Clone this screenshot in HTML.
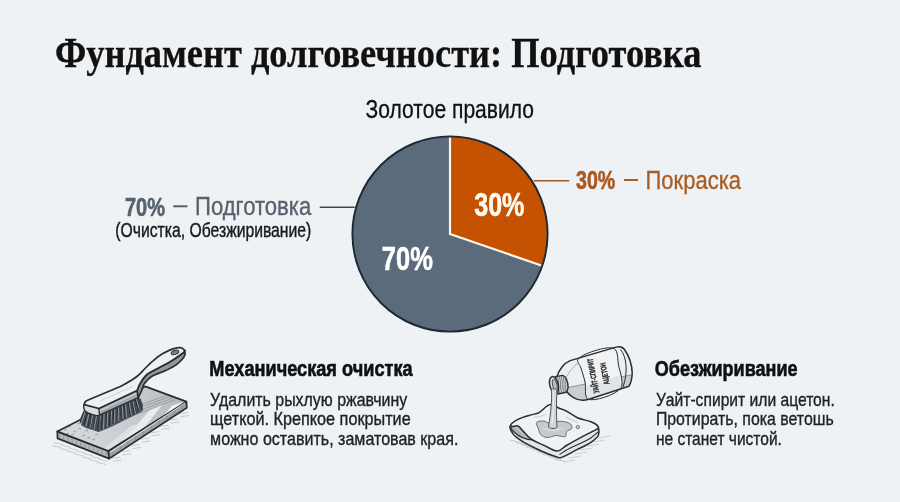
<!DOCTYPE html>
<html><head><meta charset="utf-8">
<style>
html,body{margin:0;padding:0;background:#eff2f5;}
body{width:900px;height:502px;overflow:hidden;}
svg{display:block;will-change:transform;}
.s{font-family:"Liberation Sans",sans-serif;}
.f{font-family:"Liberation Serif",serif;}
</style></head>
<body>
<svg width="900" height="502" viewBox="0 0 900 502">
<rect width="900" height="502" fill="#eff2f5"/>

<!-- Title -->
<text class="f" x="55" y="0" transform="translate(0,66.6) scale(1,1.08)" font-size="39" font-weight="bold" fill="#111" stroke="#111" stroke-width="0.3" textLength="646.5" lengthAdjust="spacingAndGlyphs">Фундамент долговечности: Подготовка</text>

<!-- Subtitle -->
<text class="s" x="365.6" y="118" font-size="25.5" fill="#111" stroke="#111" stroke-width="0.3" textLength="168.4" lengthAdjust="spacingAndGlyphs">Золотое правило</text>

<!-- Pie -->
<g id="pie">
  <circle cx="450" cy="234" r="97.6" fill="#5b6b7c"/>
  <path d="M450,234 L450,136.4 A97.6,97.6 0 0,1 542.28,265.78 Z" fill="#c55200"/>
  <path d="M450,137.4 L450,234 L541.34,265.45" fill="none" stroke="#fff6ea" stroke-width="2.2"/>
  <circle cx="450" cy="234" r="97.6" fill="none" stroke="#1c2834" stroke-width="1.9"/>
</g>
<text class="s" x="474.2" y="215.7" font-size="33.5" font-weight="bold" fill="#fffaf0" stroke="#fffaf0" stroke-width="0.6" textLength="50.2" lengthAdjust="spacingAndGlyphs">30%</text>
<text class="s" x="381.8" y="269.7" font-size="33.5" font-weight="bold" fill="#ffffff" stroke="#ffffff" stroke-width="0.6" textLength="51" lengthAdjust="spacingAndGlyphs">70%</text>

<!-- left label -->
<text class="s" x="125" y="215.5" font-size="26" font-weight="bold" fill="#57626d" stroke="#57626d" stroke-width="0.6" textLength="40" lengthAdjust="spacingAndGlyphs">70%</text>
<rect x="173.2" y="205.3" width="14.3" height="2" fill="#57626d"/>
<text class="s" x="195" y="215.3" font-size="26" fill="#57626d" stroke="#57626d" stroke-width="0.35" textLength="116.3" lengthAdjust="spacingAndGlyphs">Подготовка</text>
<text class="s" x="115.3" y="236.8" font-size="19.3" fill="#1a1a1a" stroke="#1a1a1a" stroke-width="0.4" textLength="196" lengthAdjust="spacingAndGlyphs">(Очистка, Обезжиривание)</text>
<rect x="319.7" y="206.5" width="35" height="1.5" fill="#3a4652"/>

<!-- right label -->
<rect x="534" y="180" width="35.3" height="1.5" fill="#9a5a2a"/>
<text class="s" x="576" y="188.7" font-size="25.5" font-weight="bold" fill="#a9591e" stroke="#a9591e" stroke-width="0.6" textLength="39.3" lengthAdjust="spacingAndGlyphs">30%</text>
<rect x="624" y="179" width="14" height="2" fill="#a95d22"/>
<text class="s" x="645.5" y="188.7" font-size="25.5" fill="#a95d22" stroke="#a95d22" stroke-width="0.35" textLength="95.5" lengthAdjust="spacingAndGlyphs">Покраска</text>

<!-- bottom left text -->
<text class="s" x="209.3" y="376.2" font-size="21.5" font-weight="bold" fill="#111" stroke="#111" stroke-width="0.6" textLength="203.3" lengthAdjust="spacingAndGlyphs">Механическая очистка</text>
<text class="s" x="210.1" y="405.7" font-size="18.5" fill="#222" stroke="#222" stroke-width="0.35" textLength="197.1" lengthAdjust="spacingAndGlyphs">Удалить рыхлую ржавчину</text>
<text class="s" x="210.1" y="424.5" font-size="18.5" fill="#222" stroke="#222" stroke-width="0.35" textLength="200.6" lengthAdjust="spacingAndGlyphs">щеткой. Крепкое покрытие</text>
<text class="s" x="210.1" y="444.8" font-size="18.5" fill="#222" stroke="#222" stroke-width="0.35" textLength="248.3" lengthAdjust="spacingAndGlyphs">можно оставить, заматовав края.</text>

<!-- bottom right text -->
<text class="s" x="654.8" y="376" font-size="21.5" font-weight="bold" fill="#111" stroke="#111" stroke-width="0.6" textLength="142.7" lengthAdjust="spacingAndGlyphs">Обезжиривание</text>
<text class="s" x="655.9" y="406" font-size="18.5" fill="#222" stroke="#222" stroke-width="0.35" textLength="178.9" lengthAdjust="spacingAndGlyphs">Уайт-спирит или ацетон.</text>
<text class="s" x="655.9" y="425" font-size="18.5" fill="#222" stroke="#222" stroke-width="0.35" textLength="177.8" lengthAdjust="spacingAndGlyphs">Протирать, пока ветошь</text>
<text class="s" x="655.9" y="444.6" font-size="18.5" fill="#222" stroke="#222" stroke-width="0.35" textLength="126" lengthAdjust="spacingAndGlyphs">не станет чистой.</text>

<!-- BRUSH -->
<line x1="54.2" y1="442.6" x2="63.2" y2="444.6" stroke="#c5cace" stroke-width="1"/>
<line x1="52.2" y1="445.6" x2="61.2" y2="447.6" stroke="#c5cace" stroke-width="1"/>
<line x1="61.7" y1="445.4" x2="70.7" y2="447.4" stroke="#c5cace" stroke-width="1"/>
<line x1="59.7" y1="448.4" x2="68.7" y2="450.4" stroke="#c5cace" stroke-width="1"/>
<line x1="69.1" y1="448.2" x2="78.1" y2="450.2" stroke="#c5cace" stroke-width="1"/>
<line x1="67.1" y1="451.2" x2="76.1" y2="453.2" stroke="#c5cace" stroke-width="1"/>
<line x1="76.5" y1="451.0" x2="85.5" y2="453.0" stroke="#c5cace" stroke-width="1"/>
<line x1="74.5" y1="454.0" x2="83.5" y2="456.0" stroke="#c5cace" stroke-width="1"/>
<line x1="83.9" y1="453.8" x2="92.9" y2="455.8" stroke="#c5cace" stroke-width="1"/>
<line x1="81.9" y1="456.8" x2="90.9" y2="458.8" stroke="#c5cace" stroke-width="1"/>
<line x1="91.4" y1="456.6" x2="100.4" y2="458.6" stroke="#c5cace" stroke-width="1"/>
<line x1="89.4" y1="459.6" x2="98.4" y2="461.6" stroke="#c5cace" stroke-width="1"/>
<line x1="98.8" y1="459.4" x2="107.8" y2="461.4" stroke="#c5cace" stroke-width="1"/>
<line x1="96.8" y1="462.4" x2="105.8" y2="464.4" stroke="#c5cace" stroke-width="1"/>
<line x1="111.8" y1="458.3" x2="120.8" y2="457.1" stroke="#c5cace" stroke-width="1"/>
<line x1="112.8" y1="461.3" x2="121.8" y2="460.1" stroke="#c5cace" stroke-width="1"/>
<line x1="121.4" y1="451.9" x2="130.4" y2="450.7" stroke="#c5cace" stroke-width="1"/>
<line x1="122.4" y1="454.9" x2="131.4" y2="453.7" stroke="#c5cace" stroke-width="1"/>
<line x1="131.1" y1="445.6" x2="140.1" y2="444.4" stroke="#c5cace" stroke-width="1"/>
<line x1="132.1" y1="448.6" x2="141.1" y2="447.4" stroke="#c5cace" stroke-width="1"/>
<line x1="140.7" y1="439.2" x2="149.7" y2="438.0" stroke="#c5cace" stroke-width="1"/>
<line x1="141.7" y1="442.2" x2="150.7" y2="441.0" stroke="#c5cace" stroke-width="1"/>
<line x1="150.3" y1="432.8" x2="159.3" y2="431.6" stroke="#c5cace" stroke-width="1"/>
<line x1="151.3" y1="435.8" x2="160.3" y2="434.6" stroke="#c5cace" stroke-width="1"/>
<line x1="159.9" y1="426.4" x2="168.9" y2="425.2" stroke="#c5cace" stroke-width="1"/>
<line x1="160.9" y1="429.4" x2="169.9" y2="428.2" stroke="#c5cace" stroke-width="1"/>
<line x1="169.6" y1="420.1" x2="178.6" y2="418.9" stroke="#c5cace" stroke-width="1"/>
<line x1="170.6" y1="423.1" x2="179.6" y2="421.9" stroke="#c5cace" stroke-width="1"/>
<line x1="179.2" y1="413.7" x2="188.2" y2="412.5" stroke="#c5cace" stroke-width="1"/>
<line x1="180.2" y1="416.7" x2="189.2" y2="415.5" stroke="#c5cace" stroke-width="1"/>
<path d="M57.3,431.4 L108.4,451.0 L109.2,458.6 L57.5,438.4Z" fill="#b3b9be" stroke="#262d33" stroke-width="1.7" stroke-linejoin="round"/>
<path d="M108.4,451.0 L186.4,401.6 L186.8,407.8 L109.2,458.6Z" fill="#9ca3a9" stroke="#262d33" stroke-width="1.7" stroke-linejoin="round"/>
<line x1="59.4" y1="433.7" x2="59.4" y2="438.2" stroke="#7b838a" stroke-width="0.6"/>
<line x1="63.7" y1="435.3" x2="63.7" y2="439.8" stroke="#7b838a" stroke-width="0.6"/>
<line x1="67.9" y1="437.0" x2="67.9" y2="441.5" stroke="#7b838a" stroke-width="0.6"/>
<line x1="72.2" y1="438.6" x2="72.2" y2="443.1" stroke="#7b838a" stroke-width="0.6"/>
<line x1="76.5" y1="440.2" x2="76.5" y2="444.8" stroke="#7b838a" stroke-width="0.6"/>
<line x1="80.7" y1="441.9" x2="80.7" y2="446.4" stroke="#7b838a" stroke-width="0.6"/>
<line x1="85.0" y1="443.5" x2="85.0" y2="448.0" stroke="#7b838a" stroke-width="0.6"/>
<line x1="89.2" y1="445.1" x2="89.2" y2="449.6" stroke="#7b838a" stroke-width="0.6"/>
<line x1="93.5" y1="446.8" x2="93.5" y2="451.3" stroke="#7b838a" stroke-width="0.6"/>
<line x1="97.8" y1="448.4" x2="97.8" y2="452.9" stroke="#7b838a" stroke-width="0.6"/>
<line x1="102.0" y1="450.1" x2="102.0" y2="454.6" stroke="#7b838a" stroke-width="0.6"/>
<line x1="106.3" y1="451.7" x2="106.3" y2="456.2" stroke="#7b838a" stroke-width="0.6"/>
<line x1="112.3" y1="450.0" x2="112.3" y2="454.5" stroke="#757d84" stroke-width="0.6"/>
<line x1="120.1" y1="445.1" x2="120.1" y2="449.6" stroke="#757d84" stroke-width="0.6"/>
<line x1="127.9" y1="440.1" x2="127.9" y2="444.6" stroke="#757d84" stroke-width="0.6"/>
<line x1="135.7" y1="435.2" x2="135.7" y2="439.7" stroke="#757d84" stroke-width="0.6"/>
<line x1="143.5" y1="430.3" x2="143.5" y2="434.8" stroke="#757d84" stroke-width="0.6"/>
<line x1="151.3" y1="425.3" x2="151.3" y2="429.8" stroke="#757d84" stroke-width="0.6"/>
<line x1="159.1" y1="420.4" x2="159.1" y2="424.9" stroke="#757d84" stroke-width="0.6"/>
<line x1="166.9" y1="415.5" x2="166.9" y2="420.0" stroke="#757d84" stroke-width="0.6"/>
<line x1="174.7" y1="410.5" x2="174.7" y2="415.0" stroke="#757d84" stroke-width="0.6"/>
<line x1="182.5" y1="405.6" x2="182.5" y2="410.1" stroke="#757d84" stroke-width="0.6"/>
<defs><clipPath id="pt"><path d="M145.2,386.4 L186.4,401.6 L108.4,451.0 L57.3,431.4Z"/></clipPath><linearGradient id="pg" x1="0" y1="0" x2="1" y2="0"><stop offset="0" stop-color="#d9dde0"/><stop offset="0.6" stop-color="#c6cbcf"/><stop offset="1" stop-color="#b3b9be"/></linearGradient></defs>
<path d="M145.2,386.4 L186.4,401.6 L108.4,451.0 L57.3,431.4Z" fill="url(#pg)"/>
<g clip-path="url(#pt)">
<path d="M112,452 L150,410 L163,404 L125,452Z" fill="#e9ecee"/>
<path d="M130,452 L172,406 L182,402 L142,452Z" fill="#f4f5f6"/>
<path d="M100,452 L132,425 L138,425 L110,452Z" fill="#dde0e3"/>
<line x1="130.0" y1="409.0" x2="175.0" y2="392.0" stroke="#7e868c" stroke-width="0.6"/>
<line x1="130.0" y1="411.6" x2="175.0" y2="394.6" stroke="#7e868c" stroke-width="0.6"/>
<line x1="130.0" y1="414.2" x2="175.0" y2="397.2" stroke="#7e868c" stroke-width="0.6"/>
<line x1="130.0" y1="416.8" x2="175.0" y2="399.8" stroke="#7e868c" stroke-width="0.6"/>
<path d="M64,430 l2.5,-1 l-0.5,1.5" stroke="#8d949a" stroke-width="0.7" fill="none"/>
<path d="M68,427 l2.5,-1 l-0.5,1.5" stroke="#8d949a" stroke-width="0.7" fill="none"/>
<path d="M73,432 l2.5,-1 l-0.5,1.5" stroke="#8d949a" stroke-width="0.7" fill="none"/>
<path d="M78,429 l2.5,-1 l-0.5,1.5" stroke="#8d949a" stroke-width="0.7" fill="none"/>
<path d="M71,435 l2.5,-1 l-0.5,1.5" stroke="#8d949a" stroke-width="0.7" fill="none"/>
<path d="M82,436 l2.5,-1 l-0.5,1.5" stroke="#8d949a" stroke-width="0.7" fill="none"/>
<path d="M87,438 l2.5,-1 l-0.5,1.5" stroke="#8d949a" stroke-width="0.7" fill="none"/>
<path d="M77,424 l2.5,-1 l-0.5,1.5" stroke="#8d949a" stroke-width="0.7" fill="none"/>
<path d="M85,431 l2.5,-1 l-0.5,1.5" stroke="#8d949a" stroke-width="0.7" fill="none"/>
<path d="M92,440 l2.5,-1 l-0.5,1.5" stroke="#8d949a" stroke-width="0.7" fill="none"/>
<path d="M66,434 l2.5,-1 l-0.5,1.5" stroke="#8d949a" stroke-width="0.7" fill="none"/>
<path d="M95,435 l2.5,-1 l-0.5,1.5" stroke="#8d949a" stroke-width="0.7" fill="none"/>
</g>
<path d="M145.2,386.4 L186.4,401.6 L108.4,451.0 L57.3,431.4Z" fill="none" stroke="#262d33" stroke-width="1.7" stroke-linejoin="round"/>
<line x1="110" y1="452.3" x2="185" y2="403" stroke="#f4f6f7" stroke-width="0.9"/>
<path d="M83.0,412.0 L79.5,420.0 L81.5,425.5 L86.0,428.0 L98.9,432.0 L112.0,426.5 L126.0,419.5 L142.0,411.5 L143.0,405.0 L140.7,398.9 L138.3,397.7 L99.5,415.0 L85.2,410.8Z" fill="#4d545b"/>
<line x1="84.0" y1="411.0" x2="80.1" y2="423.0" stroke="#242a2f" stroke-width="0.9"/>
<line x1="85.3" y1="411.3" x2="81.1" y2="423.7" stroke="#c0c5ca" stroke-width="0.6"/>
<line x1="86.6" y1="411.7" x2="83.7" y2="424.4" stroke="#3a4046" stroke-width="0.9"/>
<line x1="87.8" y1="412.0" x2="83.8" y2="425.1" stroke="#242a2f" stroke-width="0.9"/>
<line x1="89.1" y1="412.3" x2="86.3" y2="425.8" stroke="#c0c5ca" stroke-width="0.6"/>
<line x1="90.4" y1="412.6" x2="87.4" y2="426.5" stroke="#3a4046" stroke-width="0.9"/>
<line x1="91.7" y1="413.0" x2="88.1" y2="427.2" stroke="#242a2f" stroke-width="0.9"/>
<line x1="92.9" y1="413.3" x2="90.6" y2="427.9" stroke="#c0c5ca" stroke-width="0.6"/>
<line x1="94.2" y1="413.6" x2="90.9" y2="428.6" stroke="#3a4046" stroke-width="0.9"/>
<line x1="95.5" y1="414.0" x2="93.3" y2="429.3" stroke="#242a2f" stroke-width="0.9"/>
<line x1="96.8" y1="414.3" x2="93.9" y2="430.0" stroke="#c0c5ca" stroke-width="0.6"/>
<line x1="98.0" y1="414.6" x2="95.4" y2="430.7" stroke="#3a4046" stroke-width="0.9"/>
<line x1="99.3" y1="415.0" x2="97.6" y2="431.4" stroke="#242a2f" stroke-width="0.9"/>
<line x1="100.5" y1="414.6" x2="99.9" y2="431.0" stroke="#c0c5ca" stroke-width="0.6"/>
<line x1="101.7" y1="414.0" x2="99.6" y2="430.3" stroke="#3a4046" stroke-width="0.9"/>
<line x1="102.9" y1="413.5" x2="101.2" y2="429.7" stroke="#242a2f" stroke-width="0.9"/>
<line x1="104.1" y1="413.0" x2="103.5" y2="429.0" stroke="#c0c5ca" stroke-width="0.6"/>
<line x1="105.3" y1="412.5" x2="105.6" y2="428.4" stroke="#3a4046" stroke-width="0.9"/>
<line x1="106.5" y1="412.0" x2="106.1" y2="427.8" stroke="#242a2f" stroke-width="0.9"/>
<line x1="107.7" y1="411.5" x2="107.0" y2="427.1" stroke="#c0c5ca" stroke-width="0.6"/>
<line x1="108.9" y1="410.9" x2="109.8" y2="426.5" stroke="#3a4046" stroke-width="0.9"/>
<line x1="110.1" y1="410.4" x2="108.9" y2="425.8" stroke="#242a2f" stroke-width="0.9"/>
<line x1="111.3" y1="409.9" x2="112.2" y2="425.2" stroke="#c0c5ca" stroke-width="0.6"/>
<line x1="112.5" y1="409.4" x2="112.2" y2="424.6" stroke="#3a4046" stroke-width="0.9"/>
<line x1="113.7" y1="408.9" x2="113.2" y2="423.9" stroke="#242a2f" stroke-width="0.9"/>
<line x1="114.9" y1="408.4" x2="114.5" y2="423.3" stroke="#c0c5ca" stroke-width="0.6"/>
<line x1="116.1" y1="407.8" x2="116.3" y2="422.6" stroke="#3a4046" stroke-width="0.9"/>
<line x1="117.3" y1="407.3" x2="118.9" y2="422.0" stroke="#242a2f" stroke-width="0.9"/>
<line x1="118.5" y1="406.8" x2="118.7" y2="421.4" stroke="#c0c5ca" stroke-width="0.6"/>
<line x1="119.7" y1="406.3" x2="121.0" y2="420.7" stroke="#3a4046" stroke-width="0.9"/>
<line x1="120.9" y1="405.8" x2="122.5" y2="420.1" stroke="#242a2f" stroke-width="0.9"/>
<line x1="122.1" y1="405.2" x2="123.2" y2="419.4" stroke="#c0c5ca" stroke-width="0.6"/>
<line x1="123.2" y1="404.7" x2="125.0" y2="418.8" stroke="#3a4046" stroke-width="0.9"/>
<line x1="124.4" y1="404.2" x2="125.2" y2="418.2" stroke="#242a2f" stroke-width="0.9"/>
<line x1="125.6" y1="403.7" x2="126.5" y2="417.5" stroke="#c0c5ca" stroke-width="0.6"/>
<line x1="126.8" y1="403.2" x2="128.2" y2="416.9" stroke="#3a4046" stroke-width="0.9"/>
<line x1="128.0" y1="402.7" x2="130.7" y2="416.3" stroke="#242a2f" stroke-width="0.9"/>
<line x1="129.2" y1="402.1" x2="131.5" y2="415.6" stroke="#c0c5ca" stroke-width="0.6"/>
<line x1="130.4" y1="401.6" x2="132.6" y2="415.0" stroke="#3a4046" stroke-width="0.9"/>
<line x1="131.6" y1="401.1" x2="134.6" y2="414.3" stroke="#242a2f" stroke-width="0.9"/>
<line x1="132.8" y1="400.6" x2="135.6" y2="413.7" stroke="#c0c5ca" stroke-width="0.6"/>
<line x1="134.0" y1="400.1" x2="136.6" y2="413.1" stroke="#3a4046" stroke-width="0.9"/>
<line x1="135.2" y1="399.6" x2="139.1" y2="412.4" stroke="#242a2f" stroke-width="0.9"/>
<line x1="136.4" y1="399.0" x2="140.3" y2="411.8" stroke="#c0c5ca" stroke-width="0.6"/>
<line x1="137.6" y1="398.5" x2="140.5" y2="411.1" stroke="#3a4046" stroke-width="0.9"/>
<line x1="138.8" y1="398.0" x2="142.7" y2="410.5" stroke="#242a2f" stroke-width="0.9"/>
<path d="M84.2,404.6 C85.9,403.2 96.8,406.3 98.9,408.8 C100.3,410.5 100.6,414.3 99.5,415.2 C97.8,416.6 87.2,413.5 85.0,411.0 C83.6,409.3 83.1,405.5 84.2,404.6Z" fill="#dadee1" stroke="#262d33" stroke-width="1.4" stroke-linejoin="round"/>
<path d="M98.9,408.5 L137.1,390.5 L138.3,397.7 L99.5,415.0Z" fill="#bcc2c7" stroke="#262d33" stroke-width="1.4" stroke-linejoin="round"/>
<line x1="101" y1="412" x2="137" y2="395" stroke="#6d757c" stroke-width="0.6"/>
<line x1="101" y1="413.6" x2="137.5" y2="396.6" stroke="#6d757c" stroke-width="0.6"/>
<path d="M184.8,350.5 C184.8,352.1 185.4,353.6 184.8,355.3 C183.8,358.0 180.3,361.5 177.1,364.1 C173.3,367.1 167.4,369.7 162.9,371.8 C159.1,373.6 155.1,374.1 151.9,376.2 C148.9,378.2 145.9,381.2 144.2,383.8 C142.9,385.8 142.7,387.8 141.8,390.0 C140.8,392.4 139.5,395.1 138.3,397.7 L137.1,390.5 C138.0,388.3 138.6,386.1 139.9,383.8 C141.5,381.0 143.6,377.5 146.4,375.0 C149.6,372.1 154.4,370.3 158.5,368.0 C162.8,365.6 167.5,363.4 171.7,360.8 C175.9,358.2 179.7,355.3 183.7,352.5Z" fill="#8f979e" stroke="#262d33" stroke-width="1.7" stroke-linejoin="round"/>
<path d="M98.9,408.5 L84.2,404.6 C84.5,402 85.5,401 87,400.5 L110.8,390.5  C114.8,388.7 119.3,387.0 122.8,385.2 C125.7,383.7 128.0,382.4 130.5,380.8 C132.9,379.3 135.2,377.9 137.5,376.0 C140.1,373.9 142.4,371.0 145.0,368.5 C147.6,365.9 150.1,363.2 153.0,360.8 C156.0,358.2 159.4,355.6 162.9,353.6 C166.4,351.6 170.4,349.5 173.8,348.6 C176.5,347.9 179.6,347.3 181.5,347.9 C182.9,348.3 183.7,349.6 184.8,350.5 L183.7,352.5 C179.7,355.3 175.9,358.2 171.7,360.8 C167.5,363.4 162.8,365.6 158.5,368.0 C154.4,370.3 149.6,372.1 146.4,375.0 C143.6,377.5 141.5,381.0 139.9,383.8 C138.6,386.1 138.0,388.3 137.1,390.5 L98.9,408.5Z" fill="#eef0f2" stroke="#262d33" stroke-width="1.7" stroke-linejoin="round"/>
<line x1="100" y1="401" x2="133" y2="386.5" stroke="#b9bec3" stroke-width="0.6"/>
<ellipse cx="175" cy="352.4" rx="3.9" ry="2.1" transform="rotate(-18 175 352.4)" fill="#7a838b" stroke="#262d33" stroke-width="1"/>

<!-- BOTTLE -->
<line x1="510.0" y1="440.0" x2="523.0" y2="443.0" stroke="#c9ced3" stroke-width="1.1"/>
<line x1="515.5" y1="442.4" x2="528.5" y2="445.4" stroke="#c9ced3" stroke-width="1.1"/>
<line x1="521.0" y1="444.8" x2="534.0" y2="447.8" stroke="#c9ced3" stroke-width="1.1"/>
<line x1="526.5" y1="447.1" x2="539.5" y2="450.1" stroke="#c9ced3" stroke-width="1.1"/>
<line x1="532.0" y1="449.5" x2="545.0" y2="452.5" stroke="#c9ced3" stroke-width="1.1"/>
<line x1="537.5" y1="451.9" x2="550.5" y2="454.9" stroke="#c9ced3" stroke-width="1.1"/>
<line x1="543.0" y1="454.2" x2="556.0" y2="457.2" stroke="#c9ced3" stroke-width="1.1"/>
<line x1="548.5" y1="456.6" x2="561.5" y2="459.6" stroke="#c9ced3" stroke-width="1.1"/>
<line x1="554.0" y1="459.0" x2="567.0" y2="462.0" stroke="#c9ced3" stroke-width="1.1"/>
<line x1="563.0" y1="462.0" x2="575.0" y2="460.0" stroke="#c9ced3" stroke-width="1.1"/>
<line x1="569.0" y1="458.0" x2="581.0" y2="456.0" stroke="#c9ced3" stroke-width="1.1"/>
<line x1="575.0" y1="454.0" x2="587.0" y2="452.0" stroke="#c9ced3" stroke-width="1.1"/>
<line x1="581.0" y1="450.0" x2="593.0" y2="448.0" stroke="#c9ced3" stroke-width="1.1"/>
<line x1="587.0" y1="446.0" x2="599.0" y2="444.0" stroke="#c9ced3" stroke-width="1.1"/>
<line x1="593.0" y1="442.0" x2="605.0" y2="440.0" stroke="#c9ced3" stroke-width="1.1"/>
<line x1="599.0" y1="438.0" x2="611.0" y2="436.0" stroke="#c9ced3" stroke-width="1.1"/>
<path d="M510.2,425.9 C508.8,427.9 511.3,431.3 512.8,433.6 C514.5,436.1 517.3,437.9 520.5,440.1 C524.9,443.1 531.5,446.4 537.4,449.2 C543.6,452.1 553.0,455.8 556.8,457.0 C558.3,457.5 558.5,457.9 560.0,457.8 C563.5,457.4 571.9,452.2 577.4,449.4 C582.4,446.9 587.9,444.5 591.6,441.8 C594.5,439.7 597.3,437.6 598.4,435.2 C599.3,433.2 599.1,430.4 598.7,428.6 C598.4,427.3 598.6,426.2 597.1,425.3 C590.0,420.9 514.8,419.4 510.2,425.9Z" fill="#e3e6e9" stroke="#262d33" stroke-width="1.5" stroke-linejoin="round"/>
<path d="M598.4,431.8 C595.6,434.0 593.2,436.5 590.0,438.5 C586.4,440.8 581.8,442.5 577.8,444.5 C573.8,446.5 569.2,448.6 565.9,450.5 C563.4,451.9 561.6,453.2 559.5,454.5" fill="none" stroke="#262d33" stroke-width="1.1"/>
<path d="M511,426.5 C513,423 519,423.5 523.5,428.5 C527,433 530,437 533,440 C526,440 518,436 513,431 C511.5,429.5 511,428 511,426.5Z" fill="#aab1b7" stroke="#262d33" stroke-width="1.1"/>
<path d="M515,427 C518,429 522,433 526,437" fill="none" stroke="#d5d9dd" stroke-width="1"/>
<path d="M510.6,425.5 C510.6,424.3 514.9,421.1 517.9,419.4 C521.5,417.4 527.1,416.0 530.9,414.9 C533.8,414.0 536.2,414.1 538.6,412.9 C541.4,411.5 544.2,408.0 546.4,406.5 C547.9,405.5 548.7,404.6 550.3,404.5 C552.8,404.4 557.1,407.4 559.8,408.5 C561.9,409.3 563.2,409.5 565.3,410.5 C568.6,412.1 573.1,415.8 577.4,417.7 C581.8,419.7 588.0,420.4 591.6,422.0 C593.9,423.0 596.0,424.0 597.1,425.3 C597.9,426.2 598.5,427.6 598.2,428.3 C598.0,429.0 597.1,429.1 596.0,429.7 C593.5,431.1 587.5,433.9 582.9,436.3 C577.7,439.1 571.0,442.8 566.4,445.5 C563.0,447.5 560.9,450.7 557.5,451.0 C553.5,451.3 548.3,447.3 543.8,445.3 C539.4,443.3 534.5,441.4 530.9,438.8 C527.8,436.5 525.4,433.4 523.1,431.1 C521.2,429.2 519.9,426.6 517.9,425.9 C516.1,425.3 513.3,426.8 512.0,426.5 C511.3,426.3 510.6,426.0 510.6,425.5Z" fill="#eff1f3" stroke="#262d33" stroke-width="1.5" stroke-linejoin="round"/>
<path d="M534,417 C539,417 543,416 547,414" fill="none" stroke="#c3c8cc" stroke-width="0.8"/>
<path d="M566,417 C570,419 574,421 578,423" fill="none" stroke="#b5bbc0" stroke-width="0.8"/>
<path d="M536.5,422.5 C537.3,421.1 541.7,420.8 544.0,421.0 C546.1,421.2 547.7,423.3 550.0,423.5 C552.9,423.7 556.6,421.1 560.0,421.2 C563.5,421.3 568.7,422.3 570.5,424.0 C571.7,425.1 572.3,427.3 571.8,428.5 C571.2,429.9 567.5,430.1 566.5,431.5 C565.6,432.8 566.7,435.6 565.5,436.5 C563.9,437.7 559.1,435.3 556.0,435.5 C552.9,435.7 549.7,437.8 547.0,437.5 C544.6,437.2 541.9,436.0 540.5,434.5 C539.2,433.1 539.1,430.9 538.5,429.0 C537.8,426.9 535.7,423.8 536.5,422.5Z" fill="#c5cacf" stroke="#5f676e" stroke-width="0.9"/>
<path d="M543,428 C548,431 558,431 563,428" fill="none" stroke="#e4e7ea" stroke-width="1"/>
<circle cx="577.8" cy="427.1" r="1.7" fill="#c5cacf" stroke="#5f676e" stroke-width="0.8"/>
<defs><clipPath id="bc"><path d="M557,376.4 C559,370 564,363 570.2,360.6 L616.1,347.1 C620,346 622.8,347 624.5,349.5 C629,356 632,365 632.2,373 C632,379 630.8,383.5 628.8,386.3 L588.9,399.2 C584,400.8 578,400.3 573.5,397.6 C570,395.5 568,393.5 566.4,391.2 Z"/></clipPath></defs>
<path d="M557,376.4 C559,370 564,363 570.2,360.6 L616.1,347.1 C620,346 622.8,347 624.5,349.5 C629,356 632,365 632.2,373 C632,379 630.8,383.5 628.8,386.3 L588.9,399.2 C584,400.8 578,400.3 573.5,397.6 C570,395.5 568,393.5 566.4,391.2 Z" fill="#eceef0"/>
<g clip-path="url(#bc)">
<path d="M560,389 L568,387.5 L631,375 L640,410 L560,410Z" fill="#c9ced2"/>
<path d="M568,387.5 L631,375" stroke="#6a7279" stroke-width="0.7"/>
<path d="M566,378 C570,370 575,364 582,361" fill="none" stroke="#a3aab0" stroke-width="0.9"/>
</g>
<path d="M577.9,359.4 C580.5,354.3 607.8,345.1 614.0,348.5 C618.2,350.8 617.4,359.0 618.5,365.0 C619.8,372.0 624.3,382.4 620.7,388.0 C616.3,394.8 593.1,402.2 587.8,399.0 C584.1,396.7 586.2,387.4 585.0,382.0 C583.9,377.1 582.3,372.1 581.0,368.0 C580.0,364.8 576.6,361.9 577.9,359.4Z" fill="#f1f2f3" stroke="#262d33" stroke-width="1.0" stroke-linejoin="round"/>
<path d="M586,386 L620,375 L620.7,388 L587.8,399Z" fill="#dde0e3" opacity="0.8"/>
<path d="M557,376.4 C559,370 564,363 570.2,360.6 L616.1,347.1 C620,346 622.8,347 624.5,349.5 C629,356 632,365 632.2,373 C632,379 630.8,383.5 628.8,386.3 L588.9,399.2 C584,400.8 578,400.3 573.5,397.6 C570,395.5 568,393.5 566.4,391.2 Z" fill="none" stroke="#262d33" stroke-width="1.5" stroke-linejoin="round"/>
<path d="M620.5,349.5 C627,357 628,373 623,387" fill="none" stroke="#262d33" stroke-width="1"/>
<text x="0" y="0" font-family="Liberation Sans,sans-serif" font-size="8" font-weight="bold" fill="#1a1a1a" stroke="#1a1a1a" stroke-width="0.25" transform="translate(599.3,392.5) rotate(-101)" textLength="35" lengthAdjust="spacingAndGlyphs">УАЙТ-СПИРИТ</text>
<text x="0" y="0" font-family="Liberation Sans,sans-serif" font-size="8" font-weight="bold" fill="#1a1a1a" stroke="#1a1a1a" stroke-width="0.25" transform="translate(609.5,384) rotate(-101)" textLength="22" lengthAdjust="spacingAndGlyphs">АЦЕТОН</text>
<path d="M555.6,376.6 L562.8,375.4 C566,377 568,382 568.1,387.4 C567.5,390 566.8,391.5 566.3,392.2 L558,394 Z" fill="#dfe2e5" stroke="#262d33" stroke-width="1.4" stroke-linejoin="round"/>
<path d="M557.6,376.5 C559.1,381 559.1,388 557.6,393.2" fill="none" stroke="#4b535a" stroke-width="0.7"/>
<path d="M559.4,376.5 C560.9,381 560.9,388 559.4,393.2" fill="none" stroke="#4b535a" stroke-width="0.7"/>
<path d="M561.2,376.5 C562.7,381 562.7,388 561.2,393.2" fill="none" stroke="#4b535a" stroke-width="0.7"/>
<path d="M563.0,376.5 C564.5,381 564.5,388 563.0,393.2" fill="none" stroke="#4b535a" stroke-width="0.7"/>
<path d="M564.8,376.5 C566.3,381 566.3,388 564.8,393.2" fill="none" stroke="#4b535a" stroke-width="0.7"/>
<ellipse cx="554" cy="384.8" rx="4.2" ry="8.4" transform="rotate(-14 554 384.8)" fill="#e6e9eb" stroke="#262d33" stroke-width="1.5"/>
<ellipse cx="554.8" cy="385" rx="2.2" ry="6" transform="rotate(-14 554.8 385)" fill="#b5bbc0" stroke="#3d454c" stroke-width="0.9"/>
<path d="M551.2,389.5 C552.5,399 550.5,414 548.5,427 C551,429 555,429 557,427 C556.3,415 556.3,401 557,390.5 C555.5,388.5 553,388 551.2,389.5Z" fill="#d0d5d9" stroke="#4f575e" stroke-width="1"/>
<path d="M553.5,392 C554,402 553,414 552,424" fill="none" stroke="#eef0f2" stroke-width="1"/>
</svg>
</body></html>
